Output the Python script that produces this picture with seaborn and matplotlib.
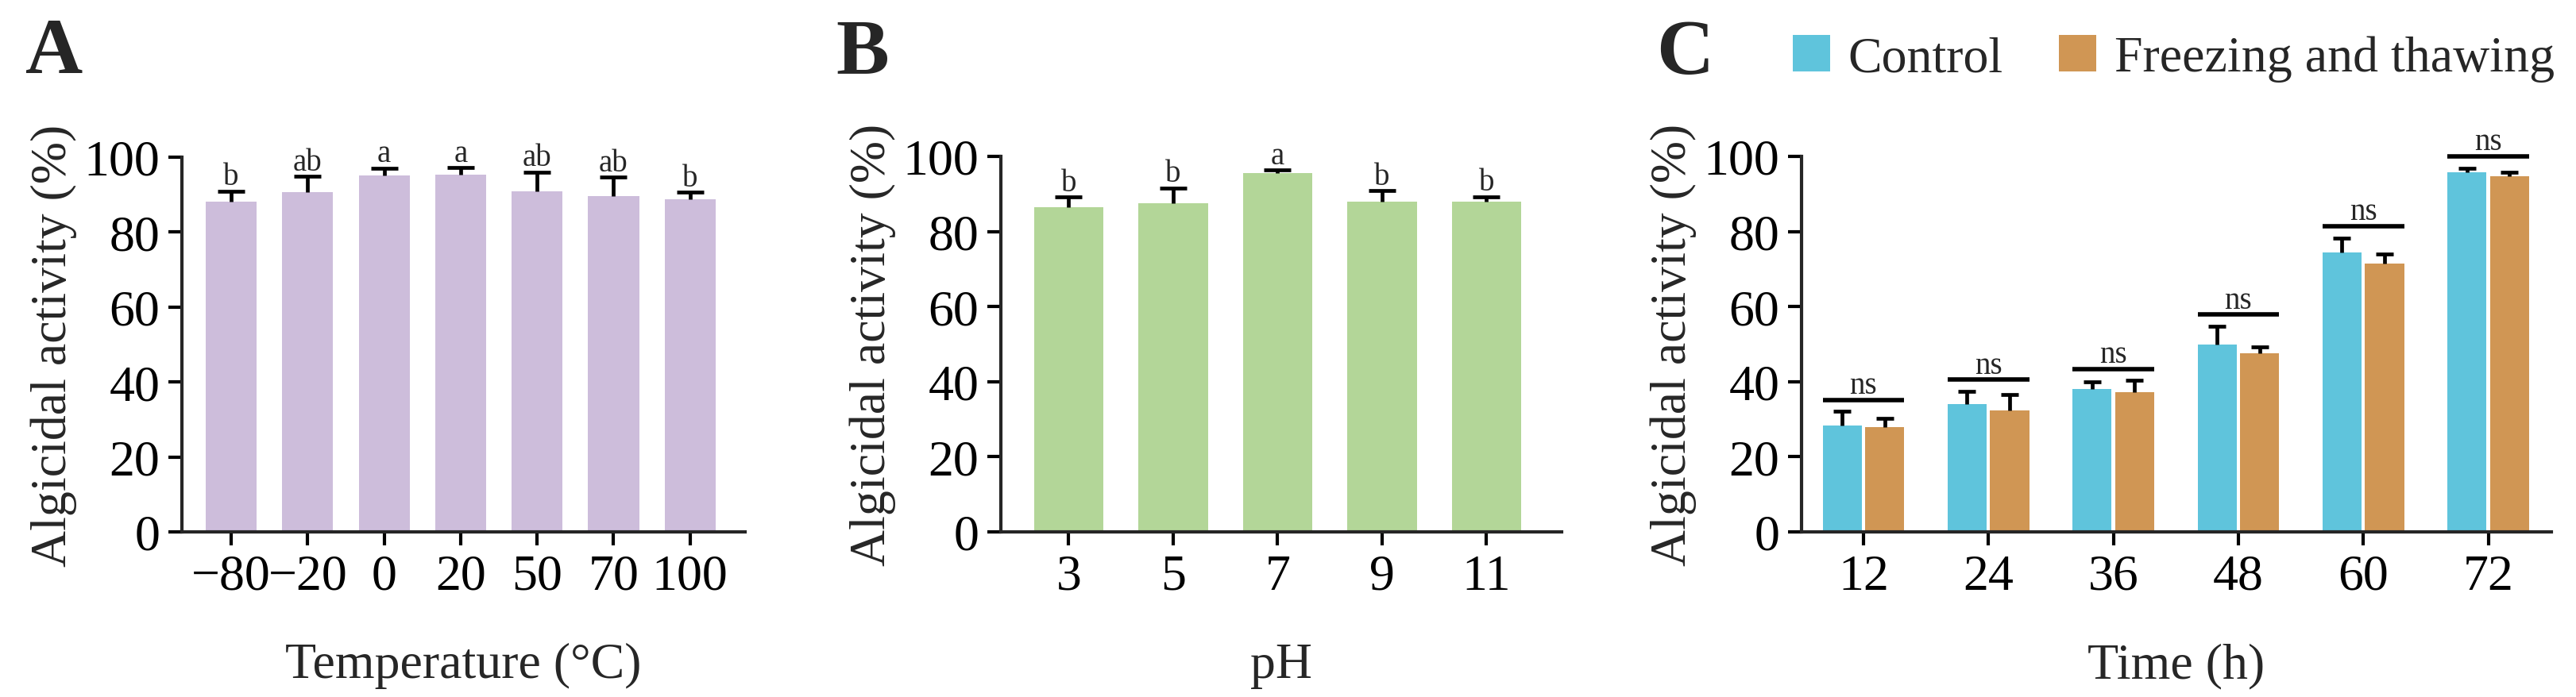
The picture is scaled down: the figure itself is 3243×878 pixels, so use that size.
import numpy as np
import pandas as pd
import matplotlib
matplotlib.use("Agg")
import matplotlib.pyplot as plt
import seaborn as sns

# ---- data ----
temp_labels = ["\u221280", "\u221220", "0", "20", "50", "70", "100"]
temp_mean = [88.2, 90.7, 95.2, 95.4, 90.9, 89.7, 88.7]
temp_err = [2.7, 4.2, 1.9, 1.8, 5.1, 5.0, 1.9]
temp_sig = ["b", "ab", "a", "a", "ab", "ab", "b"]

ph_labels = ["3", "5", "7", "9", "11"]
ph_mean = [86.4, 87.6, 95.6, 87.9, 88.0]
ph_err = [2.8, 4.0, 0.8, 3.0, 1.3]
ph_sig = ["b", "b", "a", "b", "b"]

time_labels = ["12", "24", "36", "48", "60", "72"]
control_mean = [28.4, 34.0, 38.0, 49.8, 74.5, 95.8]
control_err = [3.7, 3.4, 2.0, 5.0, 3.8, 1.1]
freeze_mean = [28.0, 32.3, 37.3, 47.6, 71.5, 94.8]
freeze_err = [2.2, 4.2, 3.0, 1.7, 2.6, 1.0]
time_sig = ["ns", "ns", "ns", "ns", "ns", "ns"]
groups = ["Control", "Freezing and thawing"]

purple = "#CDBDDB"
green = "#B3D698"
blue = "#5FC4DC"
orange = "#D09654"

sns.set_style("ticks")
plt.rcParams['font.family'] = ['Liberation Serif', 'DejaVu Serif']
plt.rcParams['axes.linewidth'] = 3

W, H = 3243, 879
fig = plt.figure(figsize=(W / 100, H / 100), dpi=100)

def px_axes(x0, x1, y100, y0):
    return fig.add_axes([x0 / W, 1 - y0 / H, (x1 - x0) / W, (y0 - y100) / H])

axA = px_axes(229, 938, 199, 671)
axB = px_axes(1260, 1966, 198, 671)
axC = px_axes(2268, 3212, 198, 671)


def add_err(ax, bars, errs, capsize):
    # only the upper half of the error bar, like the original figure
    xs = np.array([b.get_x() + b.get_width() / 2 for b in bars])
    ys = np.array([b.get_height() for b in bars])
    tops = ys + np.array(errs)
    ax.vlines(xs, ys, tops, color='black', lw=3.4, zorder=3)
    ax.plot(xs, tops, ls='none', marker='_', ms=capsize * 2, mew=3.4,
            color='black', zorder=3, clip_on=False)
    return xs, ys


def style(ax, xlabel):
    ax.set_ylim(0, 100)
    ax.set_yticks(range(0, 101, 20))
    ax.tick_params(axis='both', direction='out', length=12, width=3,
                   labelsize=46, pad=8, colors='black')
    ax.set_xlabel(xlabel, fontsize=46)
    ax.set_ylabel("Algicidal activity (%)", fontsize=46)
    wpx = ax.get_position().width * W
    hpx = ax.get_position().height * H
    ax.yaxis.set_label_coords(-161 / wpx, 0.5)
    ax.xaxis.set_label_coords(0.5, -183 / hpx)
    ax.xaxis.label.set_verticalalignment('baseline')
    ax.yaxis.label.set_verticalalignment('center')
    sns.despine(ax=ax)


# ---- A: temperature ----
sns.barplot(x=temp_labels, y=temp_mean, order=temp_labels, color=purple,
            saturation=1, width=0.667, errorbar=None, linewidth=0, ax=axA)
xs, ys = add_err(axA, axA.patches, temp_err, 12)
for x, y, e, s in zip(xs, ys, temp_err, temp_sig):
    axA.text(x, y + e + 1.8, s, ha='center', va='baseline', fontsize=28,
             clip_on=False)
axA.set_xlim(-0.645, len(temp_labels) - 1 + 0.72)
style(axA, "Temperature (\u00b0C)")

# ---- B: pH ----
sns.barplot(x=ph_labels, y=ph_mean, order=ph_labels, color=green,
            saturation=1, width=0.665, errorbar=None, linewidth=0, ax=axB)
xs, ys = add_err(axB, axB.patches, ph_err, 12)
for x, y, e, s in zip(xs, ys, ph_err, ph_sig):
    axB.text(x, y + e + 1.8, s, ha='center', va='baseline', fontsize=28,
             clip_on=False)
axB.set_xlim(-0.65, len(ph_labels) - 1 + 0.72)
style(axB, "pH")

# ---- C: time course ----
df = pd.DataFrame({
    "time": time_labels * 2,
    "group": [groups[0]] * len(time_labels) + [groups[1]] * len(time_labels),
    "value": control_mean + freeze_mean,
})
sns.barplot(data=df, x="time", y="value", hue="group", order=time_labels,
            hue_order=groups, palette=[blue, orange], saturation=1,
            width=0.68, gap=0.08, errorbar=None, linewidth=0, ax=axC)
cont = axC.containers
add_err(axC, cont[0], control_err, 8)
add_err(axC, cont[1], freeze_err, 8)
for i, s in enumerate(time_sig):
    b0, b1 = cont[0][i], cont[1][i]
    top = max(control_mean[i] + control_err[i], freeze_mean[i] + freeze_err[i])
    yl = top + 3.1
    axC.plot([b0.get_x(), b1.get_x() + b1.get_width()], [yl, yl], color='black',
             lw=4, solid_capstyle='butt', clip_on=False)
    axC.text((b0.get_x() + b1.get_x() + b1.get_width()) / 2, yl + 1.8, s,
             ha='center', va='baseline', fontsize=28, clip_on=False)
axC.set_xlim(-0.495, len(time_labels) - 1 + 0.505)
style(axC, "Time (h)")

handles, labels = axC.get_legend_handles_labels()
axC.legend(handles, labels, loc='center left', bbox_to_anchor=(2257 / W, 1 - 74.5 / H),
           bbox_transform=fig.transFigure, ncol=2, frameon=False, fontsize=46,
           handlelength=0.73, handleheight=0.73, handletextpad=0.36,
           columnspacing=1.1, borderpad=0, borderaxespad=0)

# panel letters
for letter, xp in zip(["A", "B", "C"], [31.6, 1052, 2085.6]):
    fig.text(xp / W, 1 - 92.5 / H, letter, fontsize=72, fontweight='bold',
             ha='left', va='baseline')

fig.savefig("out.png", dpi=100)
